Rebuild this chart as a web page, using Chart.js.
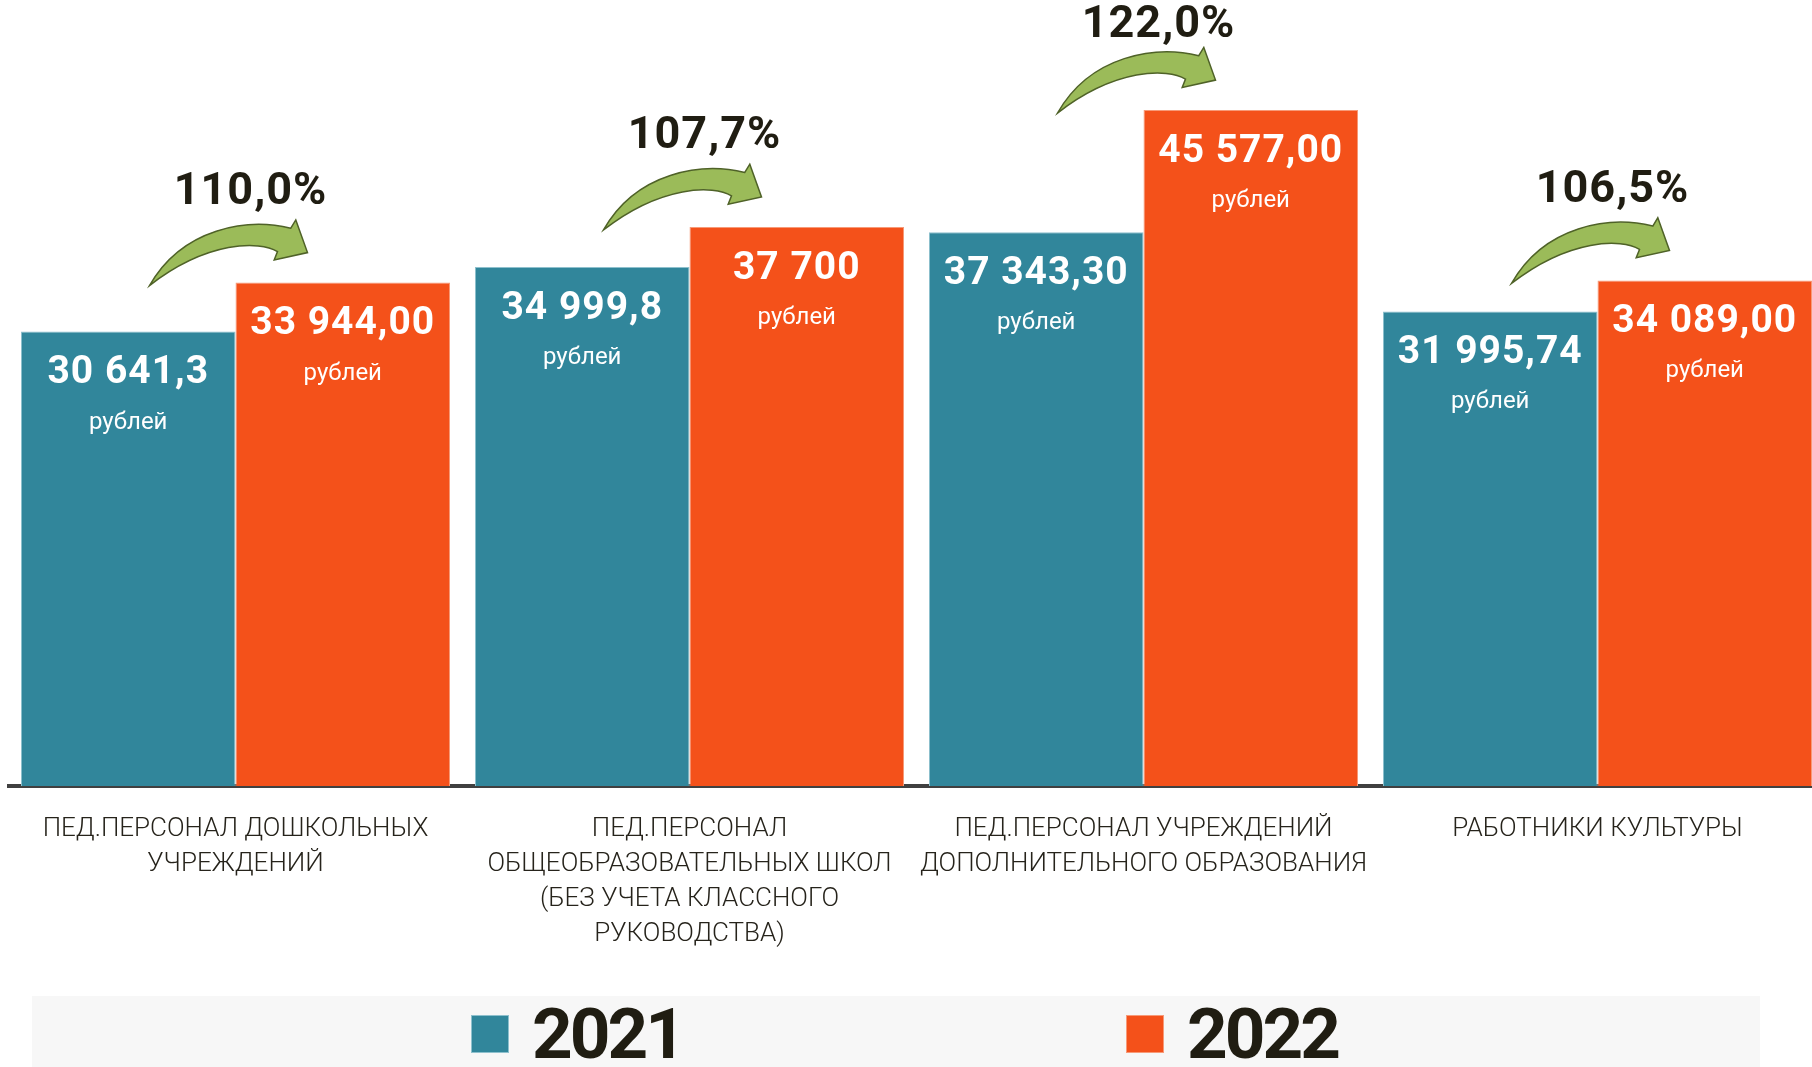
<!DOCTYPE html>
<html lang="ru">
<head>
<meta charset="utf-8">
<title>Средняя заработная плата 2021–2022</title>
<script src="https://cdn.jsdelivr.net/npm/chart.js@4.4.0/dist/chart.umd.min.js"></script>
<style>
  html, body { margin: 0; padding: 0; background: #fff; overflow: hidden; }
  #chart { display: block; }
</style>
</head>
<body>
<canvas id="chart" width="1834" height="1067"></canvas>
<script>
// Categories (x axis, split into lines)
const categories = [
  ["ПЕД.ПЕРСОНАЛ ДОШКОЛЬНЫХ", "УЧРЕЖДЕНИЙ"],
  ["ПЕД.ПЕРСОНАЛ", "ОБЩЕОБРАЗОВАТЕЛЬНЫХ ШКОЛ", "(БЕЗ УЧЕТА КЛАССНОГО", "РУКОВОДСТВА)"],
  ["ПЕД.ПЕРСОНАЛ УЧРЕЖДЕНИЙ", "ДОПОЛНИТЕЛЬНОГО ОБРАЗОВАНИЯ"],
  ["РАБОТНИКИ КУЛЬТУРЫ"]
];
const years = ["2021", "2022"];
const values2021 = [30641.3, 34999.8, 37343.3, 31995.74];
const values2022 = [33944.0, 37700, 45577.0, 34089.0];
// labels as printed on the bars
const labels2021 = ["30 641,3", "34 999,8", "37 343,30", "31 995,74"];
const labels2022 = ["33 944,00", "37 700", "45 577,00", "34 089,00"];
const growthLabels = ["110,0%", "107,7%", "122,0%", "106,5%"];
const unitLabel = "рублей";

const FONT = "Roboto, 'Noto Sans', sans-serif";

/* ===============================
   Value labels inside the bars
=============================== */
const barLabels = {
  id: "barLabels",
  afterDatasetsDraw(chart) {
    const ctx = chart.ctx;
    ctx.save();
    ctx.fillStyle = "#fff";
    ctx.textAlign = "center";
    ctx.textBaseline = "middle";
    chart.data.datasets.forEach((ds, di) => {
      chart.getDatasetMeta(di).data.forEach((bar, i) => {
        ctx.font = "bold 39px " + FONT;
        ctx.letterSpacing = "1px";
        ctx.fillText(ds.valueLabels[i], bar.x, bar.y + 42);
        ctx.font = "24px " + FONT;
        ctx.letterSpacing = "0px";
        ctx.fillText(unitLabel, bar.x, bar.y + 91);
      });
    });
    ctx.restore();
  }
};

/* ===============================
   Green growth arrows + percents
=============================== */
const growthArrows = {
  id: "growthArrows",
  afterDatasetsDraw(chart) {
    const ctx = chart.ctx;
    const m0 = chart.getDatasetMeta(0);
    const m1 = chart.getDatasetMeta(1);
    growthLabels.forEach((txt, i) => {
      const cx = (m0.data[i].x + m1.data[i].x) / 2;
      const tx = cx + 72;
      const ty = m1.data[i].y - 30;

      ctx.save();
      ctx.translate(tx, ty);
      ctx.beginPath();
      ctx.moveTo(-158, 33);
      ctx.bezierCurveTo(-125, -25, -60, -35, -16.7, -24.4);
      ctx.lineTo(-11.7, -32.7);
      ctx.lineTo(0, 0);
      ctx.lineTo(-33.3, 7.3);
      ctx.lineTo(-30, -1);
      ctx.bezierCurveTo(-48, -12, -100, -12, -158, 33);
      ctx.closePath();
      ctx.fillStyle = "#9bbb59";
      ctx.fill();
      ctx.strokeStyle = "#4f6228";
      ctx.lineWidth = 1.5;
      ctx.stroke();
      ctx.restore();

      ctx.save();
      ctx.font = "bold 45px " + FONT;
      ctx.letterSpacing = "1px";
      ctx.fillStyle = "#201d12";
      ctx.textAlign = "center";
      ctx.textBaseline = "middle";
      ctx.fillText(txt, tx - 57, Math.max(ty - 60, 26));
      ctx.restore();
    });
  }
};

/* ===============================
   Year legend on a grey band
=============================== */
const yearLegend = {
  id: "yearLegend",
  afterDraw(chart) {
    const ctx = chart.ctx;
    ctx.save();
    ctx.fillStyle = "#f7f7f7";
    ctx.fillRect(32, 996, 1728, 71);
    const xs = [471, 1126];
    chart.data.datasets.forEach((ds, i) => {
      ctx.fillStyle = ds.backgroundColor;
      ctx.fillRect(xs[i], 1015, 38, 38);
      ctx.strokeStyle = ds.borderColor;
      ctx.lineWidth = 1;
      ctx.strokeRect(xs[i] + 0.5, 1015.5, 37, 37);
      ctx.fillStyle = "#201d12";
      ctx.font = "bold 71px " + FONT;
      ctx.letterSpacing = "-3px";
      ctx.textAlign = "left";
      ctx.textBaseline = "alphabetic";
      ctx.fillText(ds.label, xs[i] + 61, 1058);
    });
    ctx.restore();
  }
};

new Chart(document.getElementById("chart"), {
  type: "bar",
  data: {
    labels: categories,
    datasets: [
      {
        label: years[0],
        data: values2021,
        valueLabels: labels2021,
        backgroundColor: "#31869b",
        borderColor: "#8ec0cd",
        borderWidth: 1,
        borderSkipped: "bottom"
      },
      {
        label: years[1],
        data: values2022,
        valueLabels: labels2022,
        backgroundColor: "#f4511a",
        borderColor: "#f79a78",
        borderWidth: 1,
        borderSkipped: "bottom"
      }
    ]
  },
  options: {
    responsive: false,
    animation: false,
    layout: { padding: { left: 8.5, right: 9.5, top: 0, bottom: 0 } },
    datasets: { bar: { categoryPercentage: 0.945, barPercentage: 1 } },
    plugins: { legend: { display: false }, tooltip: { enabled: false } },
    scales: {
      x: {
        grid: { display: false, drawTicks: false },
        border: { display: true, color: "#404040", width: 4 },
        ticks: {
          color: "#26231b",
          font: { family: FONT, size: 26, weight: "300", lineHeight: 1.35 },
          padding: 26,
          maxRotation: 0,
          autoSkip: false
        },
        afterFit: (axis) => { axis.height = 281; }
      },
      y: { display: false, min: 0, max: 53000 }
    }
  },
  plugins: [barLabels, growthArrows, yearLegend]
});
</script>
</body>
</html>
